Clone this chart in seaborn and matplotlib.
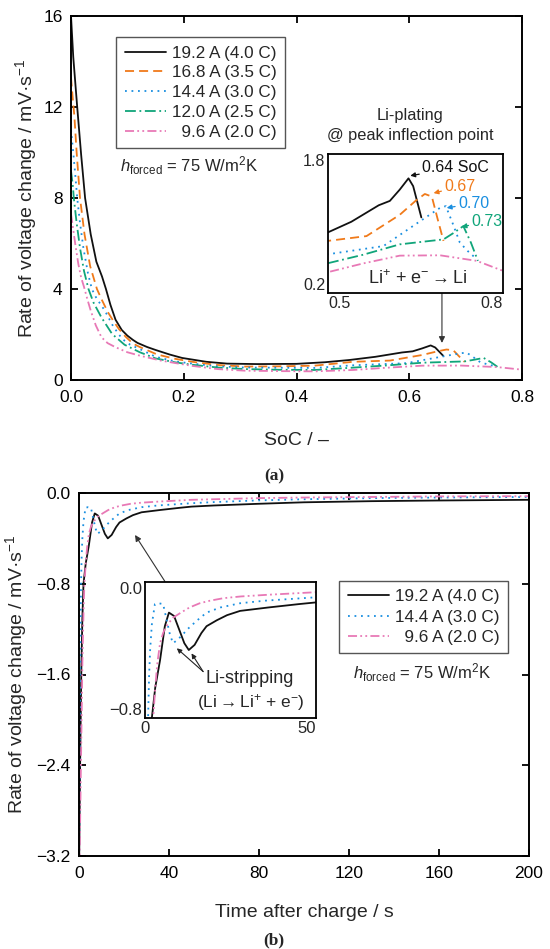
import matplotlib
matplotlib.use("Agg")
import matplotlib.pyplot as plt
import seaborn as sns
import numpy as np
import pandas as pd

# ---------------- data ----------------
# (a) rate of voltage change vs SoC
soc_192 = [0.0, 0.004, 0.011, 0.018, 0.025, 0.035, 0.045, 0.055, 0.062, 0.070, 0.079, 0.090,
           0.100, 0.110, 0.118, 0.135, 0.150, 0.175, 0.197, 0.240, 0.277, 0.330, 0.400, 0.450,
           0.494, 0.540, 0.587, 0.606, 0.623, 0.638, 0.646, 0.653, 0.660]
val_192 = [16.0, 14.2, 12.0, 9.9, 8.0, 6.4, 5.2, 4.55, 4.0, 3.3, 2.65, 2.2,
           1.95, 1.76, 1.63, 1.45, 1.32, 1.12, 0.97, 0.80, 0.72, 0.70, 0.71, 0.78,
           0.88, 1.02, 1.21, 1.26, 1.39, 1.52, 1.43, 1.25, 1.07]

soc_168 = [0.0, 0.003, 0.006, 0.010, 0.016, 0.024, 0.034, 0.046, 0.054, 0.065, 0.075, 0.085,
           0.097, 0.110, 0.122, 0.153, 0.185, 0.215, 0.260, 0.308, 0.370, 0.432, 0.500, 0.566,
           0.623, 0.650, 0.666, 0.678, 0.688, 0.698]
val_168 = [13.3, 12.4, 11.6, 10.0, 8.0, 6.4, 5.0, 4.0, 3.56, 3.0, 2.6, 2.24,
           1.9, 1.6, 1.45, 1.12, 0.93, 0.80, 0.66, 0.59, 0.60, 0.63, 0.80, 0.855,
           1.10, 1.26, 1.34, 1.31, 1.05, 0.80]

soc_144 = [0.0, 0.004, 0.008, 0.011, 0.016, 0.022, 0.030, 0.037, 0.045, 0.060, 0.075, 0.091,
           0.105, 0.122, 0.150, 0.184, 0.215, 0.260, 0.308, 0.370, 0.432, 0.500, 0.595, 0.652,
           0.692, 0.702, 0.715, 0.726, 0.740, 0.755]
val_144 = [11.0, 10.0, 8.9, 8.0, 6.9, 5.8, 4.7, 4.0, 3.6, 3.05, 2.35, 1.80,
           1.55, 1.36, 1.02, 0.82, 0.72, 0.60, 0.55, 0.54, 0.53, 0.646, 0.74, 1.0,
           1.18, 1.20, 0.98, 0.78, 0.68, 0.59]

soc_120 = [0.0, 0.003, 0.005, 0.010, 0.016, 0.023, 0.031, 0.040, 0.054, 0.073, 0.095, 0.122,
           0.150, 0.184, 0.215, 0.260, 0.308, 0.370, 0.432, 0.500, 0.560, 0.623, 0.698, 0.715,
           0.732, 0.745, 0.757]
val_120 = [9.2, 8.6, 8.0, 6.9, 5.8, 4.8, 4.0, 3.4, 2.75, 2.02, 1.55, 1.22,
           0.95, 0.78, 0.67, 0.55, 0.48, 0.45, 0.44, 0.543, 0.64, 0.76, 0.817, 0.89,
           0.97, 0.78, 0.57]

soc_96 = [0.0, 0.004, 0.008, 0.013, 0.018, 0.023, 0.029, 0.035, 0.044, 0.054, 0.065, 0.079,
          0.100, 0.122, 0.160, 0.215, 0.260, 0.308, 0.370, 0.432, 0.500, 0.560, 0.623, 0.692,
          0.755, 0.800]
val_96 = [7.3, 6.6, 5.9, 5.1, 4.5, 4.1, 3.55, 3.05, 2.4, 1.88, 1.62, 1.44,
          1.22, 1.07, 0.85, 0.62, 0.48, 0.41, 0.39, 0.38, 0.44, 0.54, 0.63, 0.634,
          0.57, 0.455]

labels_a = ["19.2 A (4.0 C)", "16.8 A (3.5 C)", "14.4 A (3.0 C)", "12.0 A (2.5 C)", "  9.6 A (2.0 C)"]

# (b) rate of voltage change vs time after charge
t_192 = [0.0, 0.5, 1.0, 1.5, 2.0, 3.0, 4.4, 5.8, 7.0, 8.5, 10.0, 11.5, 12.8, 14.5, 16.5, 18.0,
         21.0, 24.0, 27.8, 36.0, 45.0, 50.0, 60.0, 80.0, 100.0, 130.0, 160.0, 200.0]
r_192 = [-3.4, -2.4, -1.6, -1.1, -0.80, -0.62, -0.46, -0.26, -0.18, -0.20, -0.28, -0.36, -0.40,
         -0.37, -0.30, -0.26, -0.225, -0.195, -0.17, -0.15, -0.13, -0.12, -0.11, -0.095, -0.082,
         -0.072, -0.066, -0.06]

t_144 = [0.0, 0.3, 0.6, 0.9, 1.2, 1.5, 2.0, 2.9, 4.0, 5.3, 6.3, 7.3, 8.2, 9.5, 11.0, 12.3, 15.0,
         18.0, 22.0, 27.8, 35.0, 50.0, 60.0, 80.0, 100.0, 130.0, 160.0, 200.0]
r_144 = [-3.5, -2.4, -1.4, -0.8, -0.55, -0.40, -0.25, -0.13, -0.125, -0.13, -0.22, -0.31, -0.36,
         -0.34, -0.31, -0.28, -0.23, -0.18, -0.15, -0.125, -0.11, -0.09, -0.08, -0.065, -0.055,
         -0.045, -0.04, -0.035]

t_96 = [0.0, 0.5, 1.0, 1.5, 2.0, 2.4, 3.0, 3.6, 4.4, 5.3, 6.2, 8.2, 10.5, 13.0, 16.0, 19.0, 23.0,
        28.0, 36.0, 50.0, 60.0, 80.0, 100.0, 130.0, 160.0, 200.0]
r_96 = [-3.5, -2.9, -2.2, -1.5, -1.05, -0.80, -0.62, -0.48, -0.36, -0.30, -0.26, -0.21, -0.18,
        -0.15, -0.125, -0.11, -0.095, -0.085, -0.075, -0.06, -0.055, -0.045, -0.04, -0.035,
        -0.03, -0.028]

labels_b = ["19.2 A (4.0 C)", "14.4 A (3.0 C)", "  9.6 A (2.0 C)"]

peak_labels = ["0.64 SoC", "0.67", "0.70", "0.73"]

# ---------------- style ----------------
sns.set_theme(style="ticks")
plt.rcParams["font.family"] = ["Liberation Sans", "DejaVu Sans"]
plt.rcParams["mathtext.fontset"] = "custom"
plt.rcParams["mathtext.rm"] = "Liberation Sans"
plt.rcParams["mathtext.it"] = "Liberation Sans:italic"
plt.rcParams["mathtext.bf"] = "Liberation Sans:bold"
plt.rcParams["axes.linewidth"] = 1.4
plt.rcParams["axes.edgecolor"] = "black"

C_BLK = "#111111"
C_ORG = "#F07A1A"
C_BLU = "#1A8FE0"
C_GRN = "#10A57A"
C_PNK = "#E879B6"

styles_a = [
    (C_BLK, "-"),
    (C_ORG, (0, (5, 2.8))),
    (C_BLU, (0, (1, 2.6))),
    (C_GRN, (0, (6, 2, 1, 2))),
    (C_PNK, (0, (5, 1.8, 1, 1.8, 1, 1.8))),
]
series_a = [(soc_192, val_192), (soc_168, val_168), (soc_144, val_144),
            (soc_120, val_120), (soc_96, val_96)]
series_b = [(t_192, r_192, styles_a[0]), (t_144, r_144, styles_a[2]), (t_96, r_96, styles_a[4])]

fig = plt.figure(figsize=(5.5, 9.49), dpi=100)

def style_axis(ax, size=12.5):
    ax.tick_params(direction="in", top=True, right=True, length=5, width=1.3,
                   labelsize=size, colors="black")
    ax.tick_params(axis="x", pad=7)
    ax.tick_params(axis="y", pad=6)
    for s in ax.spines.values():
        s.set_linewidth(1.4)
        s.set_visible(True)
        s.set_color("black")

def style_inset(ax, size):
    ax.tick_params(length=0, labelsize=size, pad=2)
    for s in ax.spines.values():
        s.set_linewidth(1.3)
        s.set_color("black")
    ax.set_xlabel("")
    ax.set_ylabel("")
    xl = ax.get_xticklabels()
    xl[0].set_ha("left")
    xl[-1].set_ha("right")
    yl = ax.get_yticklabels()
    yl[0].set_va("bottom")
    yl[-1].set_va("top")

ARROW = r"$\rightarrow$"

# ---------------- panel (a) ----------------
axA = fig.add_axes([71/550, 1-380/949, 451/550, 364/949])
for (x, y), (c, ls), lab in zip(series_a, styles_a, labels_a):
    df = pd.DataFrame({"x": x, "y": y})
    sns.lineplot(data=df, x="x", y="y", ax=axA, color=c, linestyle=ls, lw=1.3,
                 label=lab, errorbar=None, sort=False)
axA.set_xlim(0, 0.8)
axA.set_ylim(0, 16)
axA.set_xticks([0.0, 0.2, 0.4, 0.6, 0.8])
axA.set_xticklabels(["0.0", "0.2", "0.4", "0.6", "0.8"])
axA.set_yticks([0, 4, 8, 12, 16])
axA.set_yticklabels(["0", "4", "8", "12", "16"])
style_axis(axA)
axA.set_xlabel("SoC / –", fontsize=14)
axA.set_ylabel("Rate of voltage change / mV·s$^{-1}$", fontsize=14)
axA.xaxis.set_label_coords(0.5, -0.143)
axA.yaxis.set_label_coords(-0.07, 0.5)
legA = axA.legend(loc="upper left", bbox_to_anchor=(0.0998, 0.942), borderaxespad=0,
                  fontsize=12.3, frameon=True, fancybox=False, framealpha=1,
                  edgecolor="#555555", handlelength=2.4, handletextpad=0.35,
                  labelspacing=0.28, borderpad=0.5)
legA.get_frame().set_linewidth(1.0)
axA.text(0.109, 0.588, r"$h_{\mathrm{forced}}$ = 75 W/m$^{2}$K", transform=axA.transAxes,
         fontsize=12, ha="left", va="center")
axA.text(0.752, 0.728, "Li-plating", transform=axA.transAxes, fontsize=11.8,
         ha="center", va="center")
axA.text(0.752, 0.673, "@ peak inflection point", transform=axA.transAxes, fontsize=11.8,
         ha="center", va="center")
axA.annotate("", xy=(0.658, 1.63), xytext=(0.658, 3.82), xycoords="data",
             arrowprops=dict(arrowstyle="-|>", color="#333333", lw=0.8, mutation_scale=9,
                             shrinkA=0, shrinkB=0))

# inset (a)
insA = fig.add_axes([328/550, 1-293/949, 175/550, 139/949])
for (x, y), (c, ls) in zip(series_a, styles_a):
    df = pd.DataFrame({"x": x, "y": y})
    sns.lineplot(data=df, x="x", y="y", ax=insA, color=c, linestyle=ls, lw=1.3,
                 errorbar=None, sort=False, legend=False)
insA.set_xlim(0.5, 0.8)
insA.set_ylim(0.2, 1.8)
insA.set_xticks([0.5, 0.8])
insA.set_xticklabels(["0.5", "0.8"])
insA.set_yticks([0.2, 1.8])
insA.set_yticklabels(["0.2", "1.8"])
style_inset(insA, 11.5)
peak_xy = [(0.641, 1.55), (0.681, 1.35), (0.7035, 1.18), (0.729, 0.962)]
text_xy = [(0.662, 1.64), (0.700, 1.426), (0.7235, 1.23), (0.7465, 1.02)]
peak_cols = [C_BLK, C_ORG, C_BLU, C_GRN]
for lab, pxy, txy, c in zip(peak_labels, peak_xy, text_xy, peak_cols):
    insA.annotate(lab, xy=pxy, xytext=txy, color=c, fontsize=11.5, ha="left", va="center",
                  arrowprops=dict(arrowstyle="-|>", color=c, lw=0.9, mutation_scale=7,
                                  shrinkA=0, shrinkB=0))
insA.text(0.654, 0.36, "Li$^{+}$ + e$^{-}$" + ARROW + "Li", fontsize=13,
          ha="center", va="center")

fig.text(274/550, 1-476/949, "(a)", fontsize=12.5, family="Liberation Serif",
         fontweight="bold", ha="center", va="center")

# ---------------- panel (b) ----------------
axB = fig.add_axes([79/550, 1-856/949, 450/550, 363/949])
for (x, y, (c, ls)), lab in zip(series_b, labels_b):
    df = pd.DataFrame({"x": x, "y": y})
    sns.lineplot(data=df, x="x", y="y", ax=axB, color=c, linestyle=ls, lw=1.3,
                 label=lab, errorbar=None, sort=False)
axB.set_xlim(0, 200)
axB.set_ylim(-3.2, 0.0)
axB.set_xticks([0, 40, 80, 120, 160, 200])
axB.set_xticklabels(["0", "40", "80", "120", "160", "200"])
yt = [0.0, -0.8, -1.6, -2.4, -3.2]
axB.set_yticks(yt)
axB.set_yticklabels(["0.0", "−0.8", "−1.6", "−2.4", "−3.2"])
style_axis(axB)
axB.set_xlabel("Time after charge / s", fontsize=14)
axB.set_ylabel("Rate of voltage change / mV·s$^{-1}$", fontsize=14)
axB.xaxis.set_label_coords(0.5, -0.132)
axB.yaxis.set_label_coords(-0.112, 0.5)
legB = axB.legend(loc="upper left", bbox_to_anchor=(0.578, 0.758), borderaxespad=0,
                  fontsize=12.3, frameon=True, fancybox=False, framealpha=1,
                  edgecolor="#555555", handlelength=2.4, handletextpad=0.35,
                  labelspacing=0.3, borderpad=0.5)
legB.get_frame().set_linewidth(1.0)
axB.text(0.609, 0.504, r"$h_{\mathrm{forced}}$ = 75 W/m$^{2}$K", transform=axB.transAxes,
         fontsize=12, ha="left", va="center")
axB.annotate("", xy=(24.9, -0.37), xytext=(38.2, -0.78), xycoords="data",
             arrowprops=dict(arrowstyle="-|>", color="#333333", lw=0.8, mutation_scale=9,
                             shrinkA=0, shrinkB=0))

# inset (b)
insB = fig.add_axes([145/550, 1-718/949, 171/550, 136/949])
for x, y, (c, ls) in series_b:
    df = pd.DataFrame({"x": x, "y": y})
    sns.lineplot(data=df, x="x", y="y", ax=insB, color=c, linestyle=ls, lw=1.3,
                 errorbar=None, sort=False, legend=False)
insB.set_xlim(0, 50)
insB.set_ylim(-0.8, 0.0)
insB.set_xticks([0, 50])
insB.set_xticklabels(["0", "50"])
insB.set_yticks([-0.8, 0.0])
insB.set_yticklabels(["−0.8", "0.0"])
style_inset(insB, 12)
insB.get_xticklabels()[0].set_ha("center")
for hx, hy in [(9.3, -0.39), (13.6, -0.42)]:
    insB.annotate("", xy=(hx, hy), xytext=(17.0, -0.527),
                  arrowprops=dict(arrowstyle="-|>", color="#222222", lw=0.8,
                                  mutation_scale=7, shrinkA=0, shrinkB=0))
insB.text(30.7, -0.565, "Li-stripping", fontsize=13, ha="center", va="center")
insB.text(31.0, -0.71, "(Li" + ARROW + "Li$^{+}$ + e$^{-}$)", fontsize=12.5,
          ha="center", va="center")

fig.text(274/550, 1-940/949, "(b)", fontsize=12.5, family="Liberation Serif",
         fontweight="bold", ha="center", va="center")

fig.savefig("out.png", dpi=100)
